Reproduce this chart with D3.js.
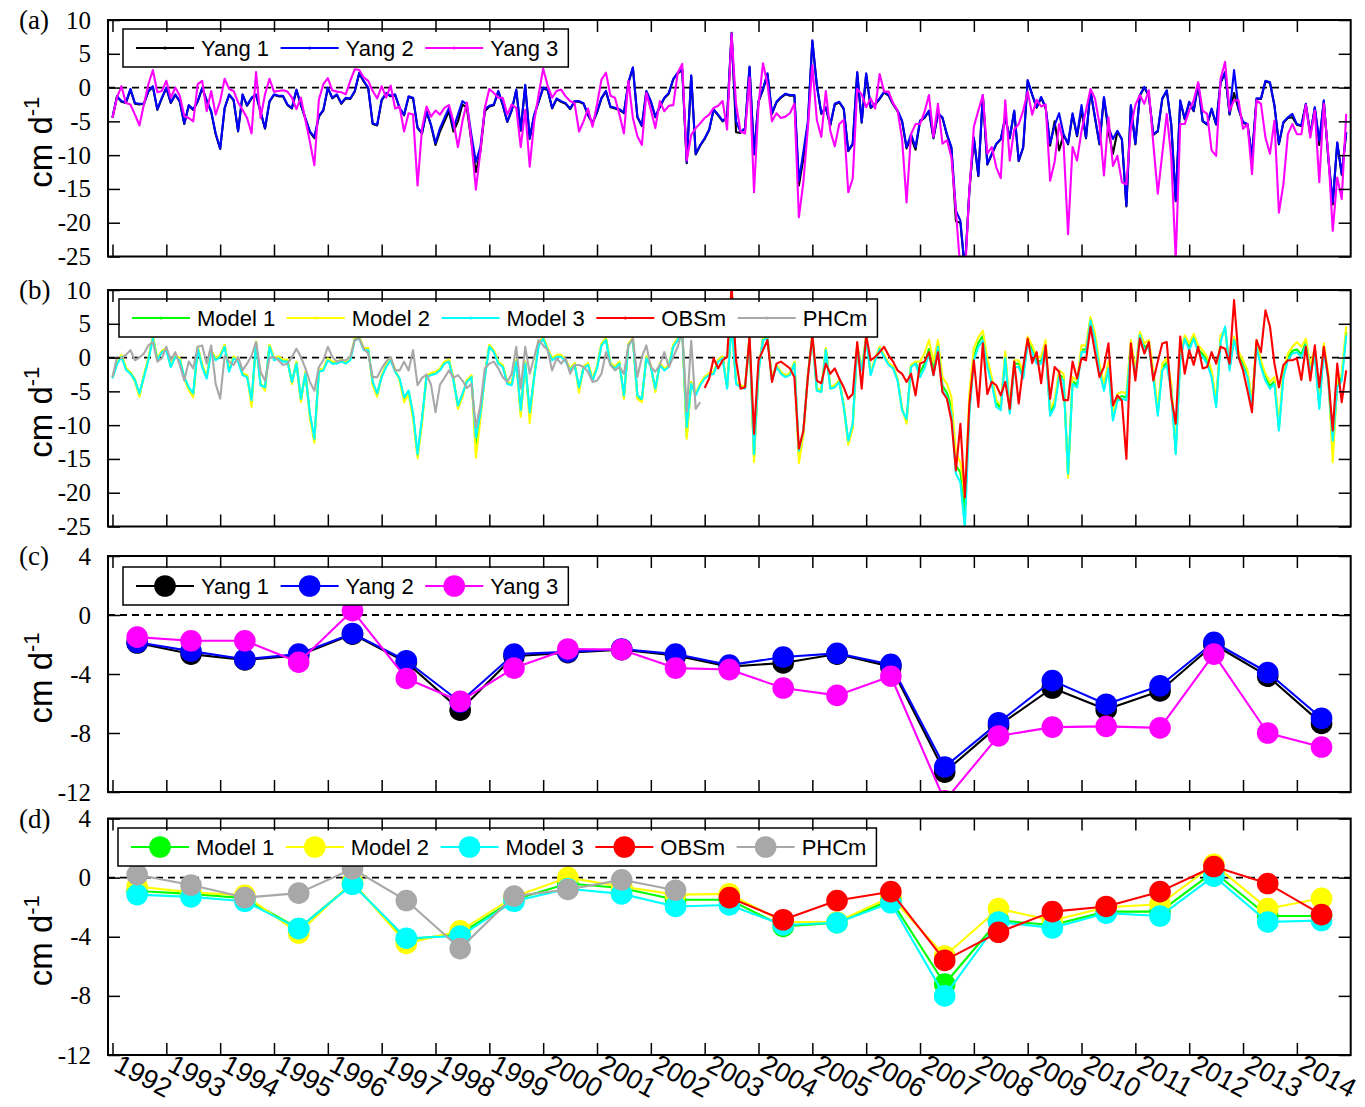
<!DOCTYPE html>
<html>
<head>
<meta charset="utf-8">
<script src="https://cdn.jsdelivr.net/npm/d3@7"></script>
<style>
  body { margin: 0; background: #fff; }
  svg { display: block; }
</style>
</head>
<body>
<svg id="chart" width="1365" height="1107"></svg>
<script>
// ---------- data (cm d^-1) ----------
const years = d3.range(1992, 2015);
const yearLabels = years.map(String);
const monthlyTicks = [10, 5, 0, -5, -10, -15, -20, -25];
const annualTicks = [4, 0, -4, -8, -12];

// monthly values, Jan 1992 .. Dec 2014 (one row per year)
const yang1Monthly = [
  -4.5,-1.3,-2.1,-2.3,-0.3,-2.4,-2.5,-2.4,-0.6,0.1,-3.3,-1.6,
  -0.1,-2.3,-1.1,-2.1,-5.4,-2.7,-3.3,-2.1,-0.1,-2.0,-3.6,-6.9,
  -9.1,-3.1,-1.1,-1.9,-6.5,-1.1,-2.7,-1.6,-1.1,-3.6,-6.1,-2.1,
  -1.1,-1.3,-1.3,-2.6,-3.1,-0.4,-2.6,-4.6,-6.6,-7.5,-4.3,-3.4,
  -0.1,-1.6,-1.1,-2.4,-1.6,-1.7,-0.6,2.1,0.9,-0.1,-5.4,-5.6,
  -1.9,-0.9,-1.3,-1.1,-3.1,-4.1,-1.4,-1.6,-6.0,-6.8,-3.6,-5.6,
  -8.5,-6.5,-5.0,-3.5,-6.5,-5.0,-2.5,-3.0,-8.0,-12.5,-9.5,-3.5,
  -2.8,-2.6,-0.6,-2.6,-5.1,-3.4,-0.4,-6.4,0.3,-7.6,-4.1,-2.1,
  -0.1,-0.4,-3.1,-1.7,-2.1,-2.4,-3.2,-2.1,-2.1,-2.4,-4.1,-5.3,
  -3.7,-1.6,-0.6,-2.9,-3.1,-3.3,-3.8,0.7,2.9,-4.4,-5.7,-0.6,
  -2.1,-4.4,-2.9,-1.6,-0.9,1.2,2.1,2.6,-11.2,1.7,-9.9,-8.6,
  -7.6,-6.3,-3.3,-4.1,-5.0,-4.5,8.1,-6.6,-6.7,-6.1,3.0,-9.9,
  -2.1,-0.3,2.0,-3.9,-2.2,-1.5,-1.0,-1.2,-1.2,-14.5,-10.5,-5.5,
  6.9,0.3,-3.9,-3.0,-5.6,-2.5,-2.2,-3.2,-9.4,-8.4,2.2,-5.2,
  2.0,-3.0,-2.5,-1.7,-0.7,-1.2,-2.5,-3.5,-5.0,-9.0,-7.4,-9.2,
  -5.0,-4.5,-3.5,-7.5,-3.9,-4.5,-7.0,-9.0,-19.8,-20.0,-27.0,-15.3,
  -7.5,-13.1,-1.2,-11.4,-9.9,-8.4,-7.7,-4.5,-7.5,-3.5,-10.9,-8.9,
  1.0,-1.1,-3.0,-1.5,-3.0,-8.6,-5.0,-9.3,-7.0,-8.4,-4.0,-7.2,
  -3.3,-7.5,-0.5,-4.5,-8.4,-1.5,-6.5,-9.8,-6.5,-7.7,-17.6,-2.7,
  -8.4,-1.2,0.0,-1.2,-7.0,-6.5,-1.7,-0.5,-5.5,-16.8,-2.0,-4.7,
  -2.2,-3.5,0.5,-5.0,-5.5,-3.2,-5.5,0.7,2.2,-4.0,-0.8,-3.2,
  -5.2,-5.5,-10.4,-1.7,-1.7,0.9,0.7,-2.7,-8.4,-5.2,-4.5,-4.4,
  -5.5,-5.7,-2.5,-7.0,-3.0,-8.5,-2.0,-10.4,-17.3,-8.2,-12.9,-6.7
];
const yang2Monthly = [
  -4.4,-1.3,-2.0,-2.2,-0.2,-2.3,-2.4,-2.4,-0.5,0.2,-3.2,-1.5,
  0.0,-2.2,-1.0,-2.0,-5.3,-2.6,-3.2,-2.0,0.0,-1.9,-3.5,-6.8,
  -9.0,-3.0,-1.0,-1.8,-6.4,-1.0,-2.6,-1.5,-1.0,-3.5,-6.0,-2.0,
  -1.0,-1.2,-1.2,-2.5,-3.0,-0.3,-2.5,-4.5,-6.5,-7.3,-4.2,-3.3,
  0.0,-1.5,-1.0,-2.3,-1.5,-1.6,-0.5,2.2,1.0,0.0,-5.3,-5.5,
  -1.8,-0.8,-1.2,-1.0,-3.0,-4.0,-1.3,-1.5,-5.9,-6.7,-3.5,-5.5,
  -8.2,-6.0,-4.5,-3.0,-6.0,-4.0,-2.0,-2.5,-7.0,-11.0,-8.8,-3.2,
  -2.7,-2.5,-0.5,-2.5,-5.0,-3.3,-0.3,-6.3,0.4,-7.5,-4.0,-2.0,
  0.0,-0.3,-3.0,-1.6,-2.0,-2.3,-3.1,-2.0,-2.0,-2.3,-4.0,-5.2,
  -3.6,-1.5,-0.5,-2.8,-3.0,-3.2,-3.7,0.8,3.0,-4.3,-5.6,-0.5,
  -2.0,-4.3,-2.8,-1.5,-0.8,1.3,2.2,2.7,-11.0,1.8,-9.8,-8.5,
  -7.5,-6.2,-3.2,-4.0,-4.9,-4.4,8.0,-5.0,-6.6,-6.0,3.1,-9.8,
  -2.0,-0.2,2.1,-3.8,-2.1,-1.4,-0.9,-1.1,-1.1,-13.8,-9.5,-5.0,
  7.0,0.4,-3.8,-2.9,-5.5,-2.4,-2.1,-3.1,-9.3,-8.3,2.3,-5.1,
  2.1,-2.9,-2.4,-1.6,-0.6,-1.1,-2.4,-3.4,-4.9,-8.8,-6.9,-8.8,
  -4.9,-4.4,-3.4,-7.4,-3.8,-4.4,-6.9,-8.8,-18.2,-19.7,-27.0,-15.2,
  -7.4,-13.0,-1.1,-11.3,-9.8,-8.3,-7.6,-4.4,-7.4,-3.4,-10.8,-8.8,
  1.1,-1.0,-2.9,-1.4,-2.9,-8.3,-5.6,-3.8,-6.9,-8.3,-3.8,-7.1,
  -2.6,-7.4,-0.4,-4.4,-8.3,-1.4,-5.9,-7.6,-6.4,-7.6,-17.5,-2.6,
  -8.3,-1.1,0.1,-1.1,-6.9,-6.4,-1.6,-0.4,-5.4,-16.7,-1.9,-4.6,
  -2.1,-3.4,0.6,-4.9,-5.4,-3.1,-5.4,0.8,2.3,-3.9,2.6,-3.1,
  -5.1,-5.4,-10.3,-1.6,-1.6,1.0,0.8,-2.6,-8.3,-5.1,-4.4,-3.9,
  -5.4,-5.6,-2.4,-6.9,-2.9,-7.9,-1.9,-10.3,-17.0,-8.1,-12.8,-6.6
];
const yang3Monthly = [
  -4.5,-1.5,0.2,-2.3,-2.5,-4.0,-5.6,-2.5,0.5,2.6,-0.7,-0.5,
  1.0,-1.5,0.0,-1.2,-4.2,-4.5,-5.0,0.5,1.0,-3.5,-0.5,-4.0,
  -2.0,1.3,-0.2,-0.5,-2.2,-3.3,-4.5,-6.8,2.3,-4.5,-1.0,1.3,
  -0.6,-0.5,-0.4,-0.6,-1.5,-3.2,-1.5,-4.8,-8.0,-11.5,-1.8,0.5,
  1.4,-0.4,-0.6,-0.7,-1.0,1.0,2.7,2.6,1.5,1.0,-0.5,-1.6,
  0.2,-1.5,0.3,-3.1,-2.8,-6.5,-3.8,-4.0,-14.5,-6.0,-2.8,-4.3,
  -3.4,-4.0,-3.0,-2.6,-5.0,-8.8,-5.0,-2.2,-8.0,-15.1,-9.5,-3.0,
  -0.2,-0.8,-1.5,-1.5,-4.0,-2.5,-3.0,-8.8,-3.3,-11.7,-5.0,-1.0,
  2.8,0.3,-1.5,-0.5,-0.3,-1.3,-2.0,-2.3,-6.5,-5.0,-3.1,-5.8,
  -2.5,1.2,2.2,-1.2,-1.5,-4.0,-6.8,1.0,-4.5,-7.2,-8.5,-0.8,
  -3.3,-6.0,-2.0,-3.5,-2.7,-2.6,2.2,3.5,-10.8,-7.0,-6.0,-5.3,
  -4.5,-4.0,-3.0,-2.7,-2.0,-6.2,8.0,-2.5,-6.5,-6.8,1.5,-15.5,
  -2.5,3.6,0.5,-5.0,-3.8,-4.5,-4.3,-3.8,-2.4,-19.2,-14.0,-6.0,
  3.3,-4.8,-7.3,-0.5,-6.4,-8.7,-5.4,-4.8,-15.5,-13.5,-0.2,-1.0,
  -2.9,-1.6,-3.1,2.0,-0.6,-0.6,-2.3,-3.4,-7.6,-17.0,-6.9,-5.4,
  -5.4,-3.6,-1.1,-7.3,-2.4,-8.3,-7.8,-10.3,-18.3,-27.0,-28.0,-15.2,
  -5.8,-3.4,-1.1,-9.8,-8.8,-11.8,-13.4,-1.9,-10.8,-6.2,-5.4,-3.4,
  -0.6,-4.0,-1.8,-2.8,-2.5,-13.8,-11.0,-5.4,-8.3,-21.7,-8.8,-10.8,
  -6.4,-3.4,-0.2,-1.6,-5.4,-13.0,-4.4,-11.6,-10.1,-14.0,-14.3,-5.9,
  -2.6,-1.1,-2.4,-0.4,-8.3,-15.7,-9.8,-3.9,-10.3,-25.5,-5.4,-5.4,
  -3.4,-1.9,0.8,-3.4,-3.9,-9.3,-10.1,1.3,3.8,-3.4,-1.9,-1.9,
  -6.1,-5.4,-12.8,-1.9,-2.4,-7.4,-9.8,-4.9,-18.5,-14.3,-6.9,-5.4,
  -6.9,-6.9,-2.6,-7.4,-3.4,-14.0,-2.4,-9.8,-21.2,-13.3,-16.5,-3.9
];
const model1Monthly = [
  -2.9,-0.8,0.3,-1.6,-2.2,-3.3,-5.5,-2.7,-0.2,3.0,-0.2,0.9,
  1.3,-1.3,0.3,-0.2,-3.0,-4.5,-5.5,1.5,-1.2,-2.9,1.0,-0.2,
  0.3,1.8,-1.9,0.1,-0.4,-2.4,-2.7,-6.6,2.3,-3.9,-4.6,1.8,
  -0.2,0.1,-0.4,-0.4,-3.7,-0.7,-6.3,-2.2,-8.5,-12.2,-1.9,-1.7,
  -0.2,-0.7,-0.7,-0.4,-0.7,-0.2,2.8,3.0,1.3,1.3,-3.8,-5.5,
  -2.7,-1.2,-0.2,-1.9,-3.2,-6.1,-5.0,-8.6,-14.4,-9.2,-2.7,-2.4,
  -2.2,-1.7,-0.7,-0.4,-3.2,-7.2,-5.5,-3.4,-2.7,-12.6,-8.6,-2.7,
  1.8,1.0,-0.7,-1.2,-3.7,-3.9,-0.4,-8.2,-0.7,-8.6,-2.7,2.0,
  3.0,1.3,-0.2,0.3,0.3,-0.4,-1.7,-0.9,-4.7,-1.4,-0.9,-3.2,
  -1.4,2.0,2.8,-0.9,-1.4,-0.7,-5.8,2.0,2.8,-5.8,-6.3,0.1,
  -1.2,-4.8,-0.9,-1.7,-1.2,1.8,2.8,4.2,-11.6,-3.7,-5.4,-3.9,
  -2.9,-2.4,-2.2,-0.4,0.1,-4.4,5.2,-3.7,-4.2,-4.4,3.0,-14.8,
  -1.9,2.8,3.0,-3.2,-1.2,-2.2,-2.7,-2.4,-0.7,-14.5,-11.0,-2.7,
  3.3,-4.7,-4.9,1.3,-4.4,-4.2,-3.4,-7.1,-12.5,-10.0,1.8,-1.7,
  3.0,-2.4,-0.2,1.5,0.3,-0.9,-1.4,-3.2,-7.6,-9.4,-1.2,-0.7,
  -2.2,-0.9,1.3,-1.9,2.0,-4.2,-5.2,-7.4,-16.0,-17.0,-22.5,-7.3,
  0.2,2.2,3.2,-0.8,-3.4,-6.8,-7.4,0.4,-8.0,-0.9,-0.9,-2.6,
  2.5,1.2,-0.5,-0.5,2.0,-8.2,-6.9,-2.5,-3.0,-17.4,-3.5,-4.0,
  1.2,1.2,5.7,3.0,-1.5,-4.5,-1.2,-8.9,-6.0,-5.7,-5.9,2.0,
  -2.5,3.5,1.5,2.0,-2.5,-8.2,-1.5,-0.7,-4.5,-14.0,0.0,3.0,
  1.5,3.1,1.2,0.5,-0.5,-2.5,-6.9,2.7,4.3,-1.5,2.8,0.3,
  -1.0,-2.5,-6.9,2.0,-1.0,-3.0,-4.2,-3.5,-10.4,-2.5,0.0,1.0,
  1.2,0.5,2.2,-1.7,0.7,-7.2,1.5,-3.0,-13.5,-4.0,-3.0,3.8
];
const model2Monthly = [
  -2.8,-0.7,0.4,-1.5,-2.2,-3.6,-5.8,-2.6,-0.1,3.1,-0.1,1.0,
  1.4,-1.2,0.4,-0.1,-3.2,-4.8,-5.9,1.6,-1.1,-2.8,1.1,-0.1,
  0.4,1.9,-1.8,0.2,-0.3,-2.3,-2.6,-7.3,2.4,-3.8,-4.9,1.9,
  -0.1,0.2,-0.3,-0.3,-3.9,-0.6,-6.6,-2.1,-9.0,-12.6,-1.8,-1.6,
  -0.1,-0.6,-0.6,-0.3,-0.6,-0.1,2.9,3.1,1.4,1.4,-4.1,-5.8,
  -2.6,-1.1,-0.1,-1.8,-3.4,-6.6,-5.4,-9.1,-14.9,-9.8,-2.6,-2.3,
  -2.1,-1.6,-0.6,-0.3,-3.1,-7.6,-5.9,-3.3,-2.6,-14.8,-9.2,-2.6,
  1.9,1.1,-0.6,-1.1,-3.6,-3.8,-0.3,-8.8,-0.6,-9.7,-2.6,2.1,
  3.1,1.4,-0.1,0.4,0.4,-0.3,-1.6,-0.8,-5.2,-1.3,-0.8,-3.1,
  -1.3,2.1,2.9,-0.8,-1.3,-0.6,-6.1,2.1,2.9,-6.1,-6.6,0.2,
  -1.1,-5.1,-0.8,-1.6,-1.1,1.9,2.9,4.3,-12.0,-3.6,-5.3,-3.8,
  -2.8,-2.3,-2.1,-0.3,0.2,-4.3,5.3,-3.6,-4.1,-4.3,3.1,-15.5,
  -1.8,2.9,3.1,-3.1,-1.1,-2.1,-2.6,-2.3,-0.6,-15.6,-11.5,-2.6,
  3.4,-4.6,-4.8,1.4,-4.3,-4.1,-3.3,-7.0,-12.9,-10.5,1.9,-1.6,
  3.1,-2.3,-0.1,1.6,0.4,-0.8,-1.3,-3.1,-7.5,-9.8,-1.1,-0.6,
  -0.6,0.6,2.6,-0.6,2.6,-2.9,-3.9,-5.8,-14.2,-15.5,-20.7,-5.3,
  1.4,3.0,4.0,-0.1,-2.9,-6.3,-7.0,0.9,-7.6,-0.4,-0.4,-2.1,
  3.1,1.8,0.1,0.1,2.6,-7.6,-6.3,-1.9,-2.4,-17.8,-2.9,-3.4,
  1.8,1.8,6.0,3.6,-0.9,-3.9,-0.6,-8.3,-5.4,-5.1,-5.3,2.6,
  -1.9,3.8,2.1,2.6,-1.9,-7.6,-0.9,-0.1,-3.9,-13.3,0.6,3.3,
  2.1,3.5,1.8,1.1,0.1,-1.9,-6.3,3.3,4.0,-0.9,3.1,0.9,
  -0.4,-1.9,-6.3,2.6,-0.4,-2.4,-3.6,-2.9,-9.8,-1.9,0.6,1.6,
  2.3,1.6,2.8,-1.1,1.3,-6.6,2.1,-2.4,-15.5,-3.4,-2.4,4.6
];
const model3Monthly = [
  -3.1,-1.0,0.1,-1.8,-2.4,-3.4,-5.3,-2.9,-0.4,2.8,-0.4,0.8,
  1.1,-1.4,0.1,-0.4,-2.9,-4.4,-5.3,1.3,-1.4,-3.1,0.8,-0.4,
  0.1,1.6,-2.1,-0.1,-0.6,-2.6,-2.9,-6.3,2.1,-4.1,-4.4,1.6,
  -0.4,-0.1,-0.6,-0.6,-3.6,-0.9,-6.1,-2.4,-8.3,-12.0,-2.1,-1.9,
  -0.4,-0.9,-0.9,-0.6,-0.9,-0.4,2.6,2.8,1.1,1.1,-3.6,-5.3,
  -2.9,-1.4,-0.4,-2.1,-3.1,-5.9,-4.9,-8.3,-14.3,-9.0,-2.9,-2.6,
  -2.4,-1.9,-0.9,-0.6,-3.4,-7.1,-5.4,-3.6,-2.9,-11.8,-8.3,-2.9,
  1.6,0.8,-0.9,-1.4,-3.9,-4.1,-0.6,-7.8,-0.9,-8.1,-2.9,1.8,
  2.8,1.1,-0.4,0.1,0.1,-0.6,-1.9,-1.1,-4.4,-1.6,-1.1,-3.4,
  -1.6,1.8,2.6,-1.1,-1.6,-0.9,-5.6,1.8,2.6,-5.6,-6.1,-0.1,
  -1.4,-4.6,-1.1,-1.9,-1.4,1.6,2.6,4.0,-10.3,-3.9,-5.6,-4.1,
  -3.1,-2.6,-2.4,-0.6,-0.1,-4.6,5.0,-3.9,-4.4,-4.6,2.8,-14.3,
  -2.1,2.6,2.8,-3.4,-1.4,-2.4,-2.9,-2.6,-0.9,-13.8,-10.8,-2.9,
  3.1,-4.9,-5.1,1.1,-4.6,-4.4,-3.6,-7.3,-12.3,-9.8,1.6,-1.9,
  2.8,-2.6,-0.4,1.3,0.1,-1.1,-1.6,-3.4,-7.8,-9.1,-1.4,-0.9,
  -2.9,-1.6,0.6,-2.6,1.6,-4.9,-5.9,-8.3,-17.2,-18.5,-25.2,-8.3,
  -0.4,1.6,2.5,-1.4,-3.9,-7.3,-7.8,-0.1,-8.3,-1.4,-1.4,-3.1,
  2.1,0.8,-0.9,-0.9,1.6,-8.6,-7.3,-2.9,-3.4,-17.2,-3.9,-4.4,
  0.8,0.8,5.5,2.6,-1.9,-4.9,-1.6,-9.3,-6.4,-6.1,-6.3,1.6,
  -2.9,3.3,1.1,1.6,-2.9,-8.6,-1.9,-1.1,-4.9,-14.3,-0.4,2.8,
  1.1,2.8,0.8,0.1,-0.9,-2.9,-7.3,2.3,4.6,-1.9,2.6,-0.1,
  -1.4,-2.9,-7.3,1.6,-1.4,-3.4,-4.6,-3.9,-10.8,-2.9,-0.4,0.6,
  0.8,0.1,1.8,-2.1,0.3,-7.6,1.1,-3.4,-12.3,-4.4,-3.4,3.3
];
// observations, Jan 2003 .. Dec 2014
const obsMonthly = [
  -4.5,-3.1,-0.1,-1.6,-0.4,0.1,10.5,-0.4,-4.6,-4.4,3.1,-11.3,
  -0.4,1.1,2.6,-3.6,-0.9,-0.6,-1.1,-1.6,-2.9,-13.5,-10.8,-2.9,
  3.3,-3.4,-3.8,-0.9,-2.4,-1.6,-3.1,-4.4,-6.1,-5.4,2.3,-4.6,
  3.3,-0.4,0.1,0.8,1.6,0.3,-0.6,-1.9,-2.4,-3.6,-2.4,-5.6,
  -0.9,-0.6,0.8,-2.6,0.8,-5.1,-6.1,-9.3,-16.7,-9.8,-20.7,-6.9,
  -0.4,-7.3,2.1,-5.4,-3.6,-4.1,-5.6,-3.6,-7.6,-0.6,-6.8,-1.4,
  2.8,-0.8,0.8,-3.8,1.8,-6.1,-1.4,-2.1,-6.3,-6.3,-0.6,-3.1,
  -0.1,-0.4,4.6,0.8,-2.9,-1.4,2.1,-7.1,-5.6,-6.4,-15.0,2.1,
  -3.4,2.8,0.6,2.3,-3.4,-0.6,2.1,2.3,-5.9,-9.8,3.1,-2.4,
  1.1,-1.1,1.6,-1.6,-1.4,0.8,-0.9,1.6,1.3,-0.9,8.5,0.1,
  -1.9,-4.9,-8.1,2.6,0.8,7.0,4.6,-0.9,-4.4,-1.1,-0.4,-0.4,
  -0.1,-3.3,1.6,-3.4,1.8,-4.4,1.6,-2.9,-10.8,-0.9,-6.6,-1.9
];
// climatology-based estimate, Jan 1992 .. Dec 2002
const phcMonthly = [
  -2.9,0.1,-0.1,0.4,1.1,-0.4,0.0,0.6,1.8,2.3,-0.6,-0.1,
  1.6,-0.4,0.8,-1.1,-3.4,-0.6,-1.6,1.6,1.8,-0.9,1.8,-3.9,
  -6.1,0.3,-0.6,-1.1,0.1,-1.9,-0.9,0.3,2.3,-2.1,-3.4,-0.1,
  0.1,-0.4,-1.1,-0.9,0.1,1.3,0.1,-1.6,-3.6,-4.9,-1.4,-0.4,
  1.6,0.1,-0.6,-0.4,-0.4,0.1,2.6,2.8,1.3,0.6,-2.9,-2.9,
  -1.6,-0.6,0.1,-1.9,-1.9,-0.6,-1.9,1.1,-4.1,-3.0,-2.5,-4.0,
  -8.1,-4.0,-3.0,-1.9,-3.0,-2.6,-3.4,-4.5,-3.9,-10.3,-7.1,-1.6,
  -0.9,-0.6,-1.6,-2.9,-3.6,-2.4,1.6,-4.6,1.6,-2.4,0.1,2.6,
  1.8,1.1,-1.9,-0.1,-0.9,-0.1,-2.4,-1.1,-1.1,-1.4,-2.1,-3.6,
  -3.4,-2.4,0.8,-1.1,-1.9,-1.4,-2.4,1.8,2.8,-2.9,0.1,1.8,
  -1.4,-2.1,-1.1,0.8,-1.4,0.1,1.6,4.0,-8.0,2.5,-7.6,-6.6
];

// annual means, 1992 .. 2014
const yang1Annual = [-1.9,-2.65,-3.05,-2.75,-1.3,-3.2,-6.45,-2.8,-2.55,-2.35,-2.75,-3.5,-3.25,-2.65,-3.5,-10.65,-7.5,-4.95,-6.4,-5.15,-2.0,-4.15,-7.35];
const yang2Annual = [-1.85,-2.45,-3.0,-2.65,-1.25,-3.1,-5.9,-2.65,-2.5,-2.3,-2.65,-3.4,-2.85,-2.6,-3.35,-10.3,-7.3,-4.45,-6.05,-4.8,-1.85,-3.9,-7.0];
const yang3Annual = [-1.5,-1.75,-1.75,-3.2,0.3,-4.3,-5.85,-3.6,-2.3,-2.35,-3.6,-3.7,-4.95,-5.45,-4.15,-12.6,-8.2,-7.6,-7.55,-7.65,-2.65,-8.0,-8.95];
const model1Annual = [-0.9,-1.1,-1.4,-3.45,-0.4,-4.2,-3.8,-1.5,-0.4,-0.7,-1.5,-1.5,-3.3,-3.05,-1.5,-7.2,-2.9,-3.2,-2.3,-2.3,0.4,-2.6,-2.6];
const model2Annual = [-0.6,-1.0,-1.2,-3.75,-0.3,-4.45,-3.6,-1.3,0.0,-0.6,-1.15,-1.1,-3.0,-3.0,-1.3,-5.3,-2.1,-2.9,-2.0,-1.8,0.9,-2.1,-1.4];
const model3Annual = [-1.15,-1.3,-1.6,-3.45,-0.45,-4.1,-3.95,-1.6,-0.75,-1.1,-1.95,-1.85,-3.2,-3.05,-1.7,-8.0,-3.0,-3.4,-2.4,-2.6,0.1,-3.0,-2.9];
const obsAnnual = [-1.35,-2.85,-1.55,-0.95,-5.6,-3.7,-2.3,-1.95,-0.95,0.75,-0.4,-2.5];   // 2003 .. 2014
const phcAnnual = [0.2,-0.5,-1.35,-1.05,0.6,-1.55,-4.8,-1.25,-0.8,-0.15,-0.85];          // 1992 .. 2002

// ---------- helpers ----------
const monthlyPoints = (vals, startYear) => vals.map((v, i) => ({ t: startYear + i / 12, v }));
const annualPoints = (vals, startYear) => vals.map((v, i) => ({ t: startYear + i + 5.5 / 12, v }));

const svg = d3.select("#chart");
const x = d3.scaleLinear().domain([1992 - 1 / 12, 2015]).range([108, 1350.7]);
const xLeft = x.range()[0], xRight = x.range()[1];

const SANS = "'Liberation Sans', Arial, sans-serif";
const SERIF = "'Liberation Serif', 'Times New Roman', serif";

const panels = [
  {
    letter: "(a)", top: 20, bottom: 256.5, domain: [-25, 10], ticks: monthlyTicks, annual: false,
    series: [
      { name: "Yang 1", color: "#000000", pts: monthlyPoints(yang1Monthly, 1992) },
      { name: "Yang 2", color: "#0000ff", pts: monthlyPoints(yang2Monthly, 1992) },
      { name: "Yang 3", color: "#ff00ff", pts: monthlyPoints(yang3Monthly, 1992) }
    ],
    legendX: 123, legendY: 29
  },
  {
    letter: "(b)", top: 290, bottom: 526.5, domain: [-25, 10], ticks: monthlyTicks, annual: false,
    series: [
      { name: "Model 1", color: "#00ff00", pts: monthlyPoints(model1Monthly, 1992) },
      { name: "Model 2", color: "#ffff00", pts: monthlyPoints(model2Monthly, 1992) },
      { name: "Model 3", color: "#00ffff", pts: monthlyPoints(model3Monthly, 1992) },
      { name: "OBSm", color: "#ff0000", pts: monthlyPoints(obsMonthly, 2003) },
      { name: "PHCm", color: "#a8a8a8", pts: monthlyPoints(phcMonthly, 1992) }
    ],
    legendX: 119, legendY: 299
  },
  {
    letter: "(c)", top: 556, bottom: 792, domain: [-12, 4], ticks: annualTicks, annual: true,
    series: [
      { name: "Yang 1", color: "#000000", pts: annualPoints(yang1Annual, 1992) },
      { name: "Yang 2", color: "#0000ff", pts: annualPoints(yang2Annual, 1992) },
      { name: "Yang 3", color: "#ff00ff", pts: annualPoints(yang3Annual, 1992) }
    ],
    legendX: 123, legendY: 567
  },
  {
    letter: "(d)", top: 818.5, bottom: 1055, domain: [-12, 4], ticks: annualTicks, annual: true,
    series: [
      { name: "Model 1", color: "#00ff00", pts: annualPoints(model1Annual, 1992) },
      { name: "Model 2", color: "#ffff00", pts: annualPoints(model2Annual, 1992) },
      { name: "Model 3", color: "#00ffff", pts: annualPoints(model3Annual, 1992) },
      { name: "OBSm", color: "#ff0000", pts: annualPoints(obsAnnual, 2003) },
      { name: "PHCm", color: "#a8a8a8", pts: annualPoints(phcAnnual, 1992) }
    ],
    legendX: 118, legendY: 828
  }
];

const defs = svg.append("defs");

panels.forEach((p, pi) => {
  const y = d3.scaleLinear().domain(p.domain).range([p.bottom, p.top]);
  const g = svg.append("g").attr("class", "panel");
  const clipId = "clip" + pi;
  defs.append("clipPath").attr("id", clipId)
    .append("rect").attr("x", xLeft).attr("y", p.top)
    .attr("width", xRight - xLeft).attr("height", p.bottom - p.top);

  const plot = g.append("g").attr("clip-path", `url(#${clipId})`);

  // zero reference
  plot.append("line")
    .attr("x1", xLeft).attr("x2", xRight)
    .attr("y1", y(0)).attr("y2", y(0))
    .attr("stroke", "#000").attr("stroke-width", 1.8)
    .attr("stroke-dasharray", "7,5");

  const line = d3.line().x(d => x(d.t)).y(d => y(d.v));
  p.series.forEach(s => {
    plot.append("path").datum(s.pts)
      .attr("d", line).attr("fill", "none")
      .attr("stroke", s.color).attr("stroke-width", 2.1)
      .attr("stroke-linejoin", "round");
    if (p.annual) {
      plot.selectAll(null).data(s.pts).enter().append("circle")
        .attr("cx", d => x(d.t)).attr("cy", d => y(d.v)).attr("r", 10.8)
        .attr("fill", s.color);
    }
  });

  // legend
  const lg = g.append("g");
  const box = lg.append("rect").attr("x", p.legendX).attr("y", p.legendY)
    .attr("height", 38).attr("fill", "#fff").attr("stroke", "#000").attr("stroke-width", 1.5);
  let cx = p.legendX + 13;
  const cy = p.legendY + 19;
  p.series.forEach(s => {
    lg.append("line").attr("x1", cx).attr("x2", cx + 58).attr("y1", cy).attr("y2", cy)
      .attr("stroke", s.color).attr("stroke-width", 2);
    lg.append("circle").attr("cx", cx + 29).attr("cy", cy)
      .attr("r", p.annual ? 10.8 : 1.6).attr("fill", s.color);
    const t = lg.append("text").attr("x", cx + 65).attr("y", cy + 8)
      .attr("font-family", SANS).attr("font-size", 22).attr("fill", "#000").text(s.name);
    cx = cx + 65 + t.node().getComputedTextLength() + 11.5;
  });
  box.attr("width", cx - 1.5 - p.legendX);

  // axes: inward ticks on all four sides
  const tickLen = 12;
  const left = g.append("g").attr("transform", `translate(${xLeft},0)`)
    .call(d3.axisLeft(y).tickValues(p.ticks).tickSize(-tickLen).tickPadding(17).tickFormat(d3.format("d")));
  const right = g.append("g").attr("transform", `translate(${xRight},0)`)
    .call(d3.axisRight(y).tickValues(p.ticks).tickSize(-tickLen).tickFormat(""));
  const top = g.append("g").attr("transform", `translate(0,${p.top})`)
    .call(d3.axisTop(x).tickValues(years).tickSize(-tickLen).tickFormat(""));
  const bottom = g.append("g").attr("transform", `translate(0,${p.bottom})`)
    .call(d3.axisBottom(x).tickValues(years).tickSize(-tickLen).tickFormat(""));
  [left, right, top, bottom].forEach(a => {
    a.select(".domain").remove();
    a.selectAll(".tick line").attr("stroke", "#000").attr("stroke-width", 1.5);
  });
  left.selectAll(".tick text")
    .attr("font-family", SERIF).attr("font-size", 25).attr("fill", "#000")
    .text(d => d < 0 ? "-" + Math.abs(d) : String(d));

  // frame
  g.append("rect").attr("x", xLeft).attr("y", p.top)
    .attr("width", xRight - xLeft).attr("height", p.bottom - p.top)
    .attr("fill", "none").attr("stroke", "#000").attr("stroke-width", 2);

  // panel letter
  g.append("text").attr("x", 19).attr("y", p.top + 9)
    .attr("font-family", SERIF).attr("font-size", 27).attr("fill", "#000").text(p.letter);

  // y-axis title
  const mid = (p.top + p.bottom) / 2;
  const yt = g.append("text")
    .attr("transform", `translate(52,${mid + 4}) rotate(-90)`)
    .attr("text-anchor", "middle")
    .attr("font-family", SANS).attr("font-size", 33).attr("fill", "#000");
  yt.append("tspan").text("cm d");
  yt.append("tspan").attr("font-size", 22).attr("dy", -13).text("-1");

  // rotated year labels under the last panel
  if (pi === panels.length - 1) {
    g.selectAll(".yl").data(years).enter().append("text")
      .attr("transform", d => `translate(${x(d)},${p.bottom + 15}) rotate(28)`)
      .attr("font-family", SANS).attr("font-size", 27).attr("fill", "#000")
      .text((d, i) => yearLabels[i]);
  }
});
</script>
</body>
</html>
